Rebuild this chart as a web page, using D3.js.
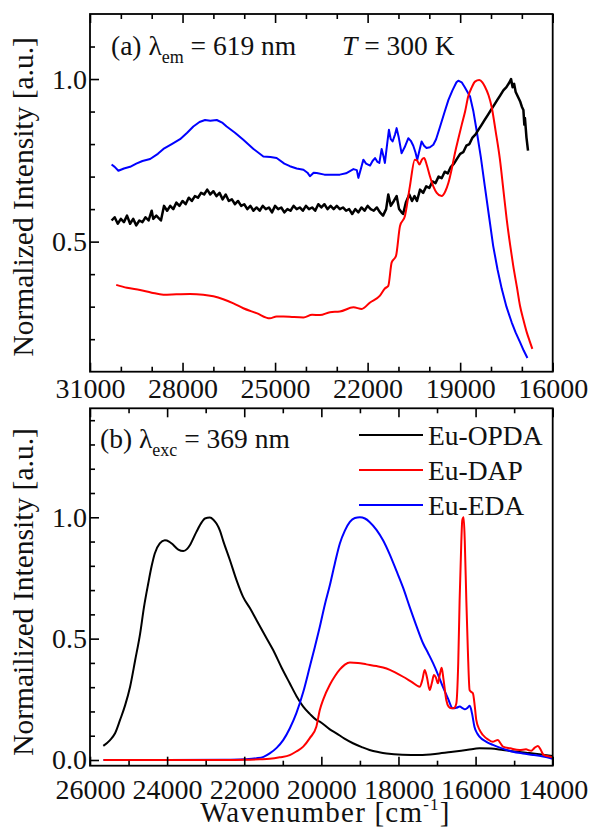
<!DOCTYPE html>
<html><head><meta charset="utf-8">
<script src="https://cdn.jsdelivr.net/npm/d3@7"></script>
<style>
html,body{margin:0;padding:0;background:#fff;}
svg, svg text{font-family:"Liberation Serif","Times New Roman",Times,Tinos,"DejaVu Serif","Noto Serif",serif;}
</style></head>
<body><svg id="c" width="590" height="829"></svg>
<script>
// ---------- Panel (a) data: [wavenumber, intensity] ----------
const topOPDA = [[30300,0.565],[30200,0.575],[30100,0.555],[30000,0.57],[29900,0.56],[29800,0.58],[29700,0.555],[29600,0.57],[29500,0.55],[29400,0.565],[29300,0.56],[29200,0.575],[29100,0.565],[29000,0.595],[28950,0.57],[28850,0.58],[28700,0.565],[28600,0.61],[28500,0.595],[28400,0.61],[28300,0.6],[28200,0.62],[28100,0.61],[28000,0.625],[27900,0.615],[27800,0.635],[27700,0.625],[27600,0.64],[27500,0.635],[27400,0.65],[27300,0.645],[27200,0.66],[27100,0.645],[27000,0.655],[26900,0.64],[26800,0.65],[26700,0.63],[26600,0.645],[26500,0.625],[26400,0.63],[26300,0.615],[26200,0.625],[26100,0.61],[26000,0.615],[25900,0.6],[25800,0.61],[25700,0.595],[25600,0.605],[25500,0.595],[25400,0.61],[25300,0.6],[25200,0.605],[25100,0.59],[25000,0.61],[24900,0.6],[24800,0.605],[24700,0.59],[24600,0.6],[24500,0.595],[24400,0.61],[24300,0.6],[24200,0.605],[24100,0.595],[24000,0.61],[23900,0.6],[23800,0.605],[23700,0.595],[23600,0.615],[23500,0.605],[23400,0.615],[23300,0.6],[23200,0.61],[23100,0.6],[23000,0.61],[22900,0.6],[22800,0.605],[22700,0.595],[22600,0.6],[22500,0.585],[22400,0.6],[22300,0.59],[22200,0.605],[22100,0.595],[22000,0.61],[21900,0.6],[21800,0.595],[21700,0.605],[21600,0.59],[21500,0.58],[21400,0.6],[21330,0.645],[21250,0.61],[21150,0.625],[21060,0.64],[20980,0.6],[20900,0.59],[20850,0.585],[20760,0.62],[20650,0.645],[20560,0.625],[20480,0.64],[20400,0.625],[20300,0.66],[20200,0.65],[20100,0.67],[20000,0.665],[19900,0.685],[19800,0.68],[19700,0.7],[19600,0.695],[19500,0.715],[19400,0.71],[19300,0.73],[19200,0.74],[19100,0.755],[19000,0.77],[18900,0.775],[18800,0.795],[18700,0.8],[18600,0.82],[18500,0.83],[18400,0.845],[18300,0.86],[18200,0.875],[18100,0.89],[18000,0.905],[17900,0.92],[17800,0.935],[17700,0.95],[17600,0.965],[17500,0.975],[17400,0.99],[17350,1.0],[17300,0.975],[17250,0.985],[17200,0.96],[17100,0.94],[17050,0.93],[17000,0.915],[16950,0.905],[16920,0.86],[16900,0.88],[16850,0.82],[16800,0.78]];
const topEDA = [[30300,0.737],[30200,0.73],[30080,0.718],[29900,0.725],[29700,0.73],[29500,0.74],[29300,0.748],[29050,0.754],[28800,0.77],[28620,0.785],[28350,0.8],[28080,0.815],[27850,0.835],[27650,0.854],[27450,0.868],[27270,0.874],[27100,0.872],[26890,0.874],[26700,0.865],[26570,0.854],[26300,0.835],[26030,0.813],[25700,0.785],[25380,0.762],[25150,0.76],[24950,0.757],[24700,0.74],[24520,0.732],[24300,0.725],[24080,0.721],[23950,0.712],[23870,0.701],[23750,0.712],[23650,0.711],[23400,0.706],[23220,0.706],[23000,0.706],[22900,0.706],[22700,0.71],[22460,0.723],[22350,0.72],[22300,0.696],[22200,0.73],[22140,0.752],[22050,0.74],[21920,0.734],[21840,0.748],[21760,0.757],[21680,0.745],[21620,0.742],[21545,0.785],[21480,0.76],[21440,0.742],[21380,0.79],[21310,0.844],[21250,0.815],[21190,0.808],[21110,0.83],[21060,0.849],[20990,0.82],[20900,0.772],[20800,0.79],[20680,0.818],[20600,0.81],[20520,0.795],[20450,0.775],[20390,0.752],[20320,0.78],[20250,0.808],[20170,0.795],[20090,0.788],[19980,0.79],[19870,0.798],[19780,0.815],[19650,0.854],[19500,0.9],[19380,0.936],[19250,0.965],[19120,0.99],[19060,0.995],[18950,0.99],[18850,0.975],[18680,0.946],[18570,0.9],[18470,0.844],[18330,0.76],[18200,0.67],[18060,0.575],[17930,0.487],[17790,0.415],[17650,0.354],[17500,0.3],[17330,0.252],[17200,0.22],[17060,0.191],[16940,0.165],[16820,0.142]];
const topDAP = [[30150,0.367],[29800,0.358],[29380,0.351],[29000,0.343],[28620,0.337],[28200,0.338],[27760,0.339],[27330,0.337],[27000,0.332],[26680,0.323],[26350,0.31],[26030,0.295],[25600,0.28],[25170,0.264],[24950,0.27],[24730,0.27],[24400,0.268],[24080,0.267],[23800,0.275],[23544,0.274],[23220,0.283],[22900,0.285],[22460,0.298],[22190,0.293],[21920,0.313],[21600,0.334],[21440,0.356],[21330,0.364],[21220,0.436],[21080,0.456],[20950,0.548],[20790,0.579],[20630,0.67],[20470,0.752],[20400,0.75],[20320,0.737],[20240,0.752],[20170,0.757],[20080,0.735],[19980,0.701],[19870,0.67],[19760,0.65],[19600,0.64],[19480,0.655],[19380,0.681],[19270,0.725],[19170,0.772],[19050,0.82],[18950,0.859],[18840,0.9],[18740,0.946],[18620,0.975],[18520,0.992],[18380,0.997],[18280,0.99],[18200,0.977],[18080,0.95],[17980,0.915],[17850,0.84],[17710,0.752],[17600,0.66],[17490,0.568],[17380,0.49],[17280,0.426],[17160,0.36],[17060,0.303],[16950,0.26],[16840,0.221],[16750,0.195],[16660,0.17]];

// ---------- Panel (b) data ----------
const botOPDA = [[25655,0.058],[25480,0.082],[25350,0.11],[25220,0.165],[25090,0.225],[24960,0.302],[24830,0.41],[24700,0.521],[24600,0.63],[24490,0.727],[24400,0.8],[24320,0.851],[24190,0.892],[24060,0.905],[23950,0.9],[23880,0.892],[23710,0.867],[23580,0.861],[23480,0.87],[23410,0.885],[23240,0.94],[23100,0.98],[23020,0.995],[22890,0.999],[22800,0.99],[22720,0.974],[22630,0.945],[22550,0.905],[22370,0.823],[22200,0.741],[22030,0.672],[21850,0.625],[21680,0.576],[21450,0.51],[21250,0.453],[21030,0.38],[20820,0.316],[20640,0.262],[20470,0.22],[20300,0.19],[20130,0.165],[20040,0.158],[19780,0.126],[19610,0.11],[19400,0.088],[19180,0.069],[18950,0.053],[18750,0.041],[18500,0.032],[18310,0.027],[17900,0.022],[17450,0.021],[17000,0.026],[16590,0.034],[16200,0.042],[15900,0.048],[15600,0.047],[15290,0.041],[14990,0.035],[14690,0.03],[14350,0.024],[14000,0.016]];
const botDAP = [[25650,0.0],[22500,0.0],[22000,0.001],[21600,0.003],[21340,0.005],[21080,0.011],[20820,0.02],[20650,0.035],[20470,0.055],[20300,0.09],[20130,0.137],[20040,0.206],[19950,0.25],[19780,0.31],[19650,0.345],[19520,0.373],[19390,0.393],[19260,0.402],[19050,0.4],[18830,0.394],[18570,0.387],[18310,0.377],[18100,0.362],[17880,0.343],[17660,0.322],[17450,0.302],[17380,0.33],[17320,0.371],[17260,0.34],[17190,0.288],[17130,0.32],[17080,0.35],[17030,0.34],[16975,0.316],[16930,0.35],[16880,0.38],[16830,0.33],[16760,0.247],[16700,0.22],[16630,0.213],[16560,0.214],[16500,0.233],[16450,0.4],[16414,0.658],[16370,0.9],[16345,0.988],[16310,1.0],[16280,0.9],[16240,0.658],[16200,0.45],[16155,0.288],[16110,0.28],[16068,0.274],[16020,0.22],[15982,0.165],[15900,0.125],[15810,0.103],[15680,0.085],[15550,0.075],[15480,0.08],[15420,0.082],[15350,0.068],[15290,0.055],[15100,0.048],[14860,0.041],[14690,0.044],[14620,0.04],[14557,0.038],[14470,0.05],[14384,0.058],[14310,0.042],[14238,0.021],[14100,0.015],[14000,0.011]];
const botEDA = [[25650,0.0],[24000,0.0],[22500,0.001],[22000,0.003],[21680,0.007],[21500,0.013],[21340,0.027],[21160,0.05],[20990,0.082],[20820,0.13],[20650,0.192],[20470,0.28],[20300,0.384],[20170,0.465],[20040,0.549],[19910,0.64],[19780,0.72],[19650,0.81],[19520,0.892],[19390,0.945],[19260,0.981],[19130,0.997],[19000,1.0],[18870,0.995],[18750,0.981],[18570,0.948],[18400,0.905],[18230,0.848],[18060,0.782],[17880,0.71],[17710,0.631],[17540,0.555],[17360,0.48],[17230,0.44],[17100,0.398],[16970,0.35],[16850,0.302],[16720,0.255],[16590,0.213],[16500,0.215],[16410,0.22],[16340,0.214],[16280,0.209],[16210,0.215],[16150,0.223],[16090,0.19],[16030,0.137],[15960,0.11],[15900,0.096],[15720,0.075],[15550,0.062],[15300,0.047],[15030,0.034],[14770,0.027],[14510,0.021],[14250,0.014],[14000,0.005]];

// ---------- Ticks / labels ----------
const topXMajor = [31000,28000,25000,22000,19000,16000];
const topXMinor = [30000,29000,27000,26000,24000,23000,21000,20000,18000,17000];
const topYMajor = [0.5,1.0];
const topYMinor = [0.2,0.3,0.4,0.6,0.7,0.8,0.9,1.1];
const botXMajor = [26000,24000,22000,20000,18000,16000,14000];
const botXMinor = [25000,23000,21000,19000,17000,15000];
const botYMajor = [0.0,0.5,1.0];
const botYMinor = [0.1,0.2,0.3,0.4,0.6,0.7,0.8,0.9,1.1,1.2,1.3,1.4];
const seriesNames = ["Eu-OPDA","Eu-DAP","Eu-EDA"];
const seriesColors = ["#000000","#ff0000","#0000ff"];

const FONT = '"Liberation Serif","Times New Roman",Times,Tinos,"DejaVu Serif","Noto Serif",serif';
const svg = d3.select("#c");
const L = 90, R = 552.7;

function panel(cfg){
  const x = d3.scaleLinear().domain(cfg.xd).range([L,R]);
  const y = d3.scaleLinear().domain(cfg.yd).range([cfg.b,cfg.t]);
  const g = svg.append("g");
  const line = d3.line().x(d=>x(d[0])).y(d=>y(d[1]));
  cfg.series.forEach((s,i)=>{
    g.append("path").datum(s.data)
      .attr("d", line.curve(s.smooth ? d3.curveMonotoneX : d3.curveLinear))
      .attr("fill","none").attr("stroke",s.color)
      .attr("stroke-width",s.w).attr("stroke-linejoin","round");
  });
  const fs = 28;
  const bx = g.append("g").attr("transform",`translate(0,${cfg.b})`)
    .call(d3.axisBottom(x).tickValues(cfg.xMaj).tickSize(-9).tickPadding(cfg.xpad).tickFormat(d3.format("d")));
  const bxm = g.append("g").attr("transform",`translate(0,${cfg.b})`)
    .call(d3.axisBottom(x).tickValues(cfg.xMin).tickSize(-5).tickFormat(""));
  const tx = g.append("g").attr("transform",`translate(0,${cfg.t})`)
    .call(d3.axisTop(x).tickValues(cfg.xMaj).tickSize(-9).tickFormat(""));
  const txm = g.append("g").attr("transform",`translate(0,${cfg.t})`)
    .call(d3.axisTop(x).tickValues(cfg.xMin).tickSize(-5).tickFormat(""));
  const ly = g.append("g").attr("transform",`translate(${L},0)`)
    .call(d3.axisLeft(y).tickValues(cfg.yMaj).tickSize(-9).tickPadding(3).tickFormat(d3.format(".1f")));
  const lym = g.append("g").attr("transform",`translate(${L},0)`)
    .call(d3.axisLeft(y).tickValues(cfg.yMin).tickSize(-5).tickFormat(""));
  [bx,bxm,tx,txm,ly,lym].forEach(a=>{
    a.attr("font-family",FONT).attr("font-size",fs);
    a.select(".domain").remove();
    a.selectAll(".tick line").attr("stroke","#000").attr("stroke-width",1.6);
    a.selectAll("text").attr("font-family",FONT).attr("font-size",fs).attr("fill","#111");
  });
  g.append("rect").attr("x",L).attr("y",cfg.t).attr("width",R-L).attr("height",cfg.b-cfg.t)
    .attr("fill","none").attr("stroke","#000").attr("stroke-width",1.8);
  g.append("text").attr("transform",`translate(33,${(cfg.t+cfg.b)/2 + cfg.ylo}) rotate(-90)`)
    .attr("text-anchor","middle").attr("font-family",FONT).attr("font-size",29.5).attr("fill","#111").text(cfg.ylab);
  return {x,y,g};
}

// Panel (a)
const pa = panel({xd:[31000,16000], yd:[0.1,1.2], t:14, b:371.7, ylo:4,
  xMaj:topXMajor, xMin:topXMinor, yMaj:topYMajor, yMin:topYMinor, xpad:6,
  ylab:"Normalized Intensity [a.u.]",
  series:[
    {data:topEDA, color:seriesColors[2], w:2, smooth:false},
    {data:topOPDA, color:seriesColors[0], w:2.5, smooth:false},
    {data:topDAP, color:seriesColors[1], w:2, smooth:true}
  ]});
const ta = pa.g.append("text").attr("x",111).attr("y",55).attr("font-family",FONT).attr("font-size",27.5).attr("fill","#111");
ta.append("tspan").text("(a) λ");
ta.append("tspan").attr("font-size",18).attr("dy",8).text("em");
ta.append("tspan").attr("dy",-8).text(" = 619 nm");
const tT = pa.g.append("text").attr("x",342).attr("y",55).attr("font-family",FONT).attr("font-size",27.5).attr("fill","#111");
tT.append("tspan").attr("font-style","italic").text("T");
tT.append("tspan").text(" = 300 K");

// Panel (b)
const pb = panel({xd:[26000,14000], yd:[-0.0235,1.449], t:408.3, b:765.7, ylo:5,
  xMaj:botXMajor, xMin:botXMinor, yMaj:botYMajor, yMin:botYMinor, xpad:13,
  ylab:"Normailized Intensity [a.u.]",
  series:[
    {data:botOPDA, color:seriesColors[0], w:2, smooth:true},
    {data:botEDA, color:seriesColors[2], w:2, smooth:true},
    {data:botDAP, color:seriesColors[1], w:2, smooth:true}
  ]});
const tb = pb.g.append("text").attr("x",100).attr("y",448).attr("font-family",FONT).attr("font-size",27.5).attr("fill","#111");
tb.append("tspan").text("(b) λ");
tb.append("tspan").attr("font-size",18).attr("dy",8).text("exc");
tb.append("tspan").attr("dy",-8).text(" = 369 nm");

const legY = [435,470,505];
seriesNames.forEach((n,i)=>{
  pb.g.append("line").attr("x1",359).attr("x2",423).attr("y1",legY[i]).attr("y2",legY[i])
    .attr("stroke",seriesColors[i]).attr("stroke-width",2);
  pb.g.append("text").attr("x",428).attr("y",legY[i]+10).attr("font-family",FONT).attr("font-size",27.5).attr("fill","#111").text(n);
});

const xl = svg.append("text").attr("x",(L+R)/2 + 4).attr("y",822).attr("text-anchor","middle")
  .attr("font-family",FONT).attr("font-size",29).attr("fill","#111").attr("letter-spacing",1.2);
xl.append("tspan").text("Wavenumber [cm");
xl.append("tspan").attr("font-size",17).attr("dy",-12).text("-1");
xl.append("tspan").attr("dy",12).text("]");
</script></body></html>
